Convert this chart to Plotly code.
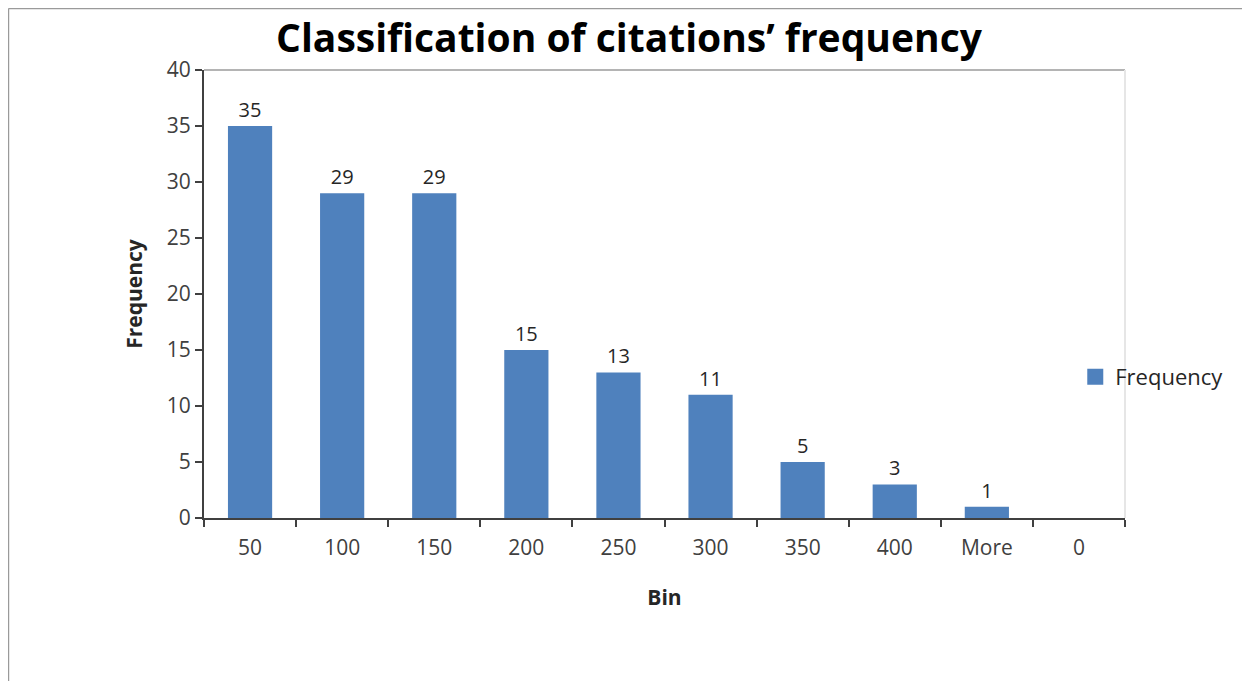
"""Histogram of citation frequency, drawn as an Excel-style bar chart."""

import plotly.graph_objects as go

bins = ["50", "100", "150", "200", "250", "300", "350", "400", "More", "0"]
frequency = [35, 29, 29, 15, 13, 11, 5, 3, 1, 0]
labels = [str(v) if v > 0 else "" for v in frequency]
y_ticks = [0, 5, 10, 15, 20, 25, 30, 35, 40]

FONT = "Open Sans"
BLUE = "#4F81BD"
AXIS = "#404040"

fig = go.Figure()

fig.add_trace(go.Bar(
    name="Frequency",
    x=bins,
    y=frequency,
    text=labels,
    textposition="outside",
    textfont=dict(size=20, color="#262626", family=FONT),
    cliponaxis=False,
    width=0.48,
    marker=dict(color=BLUE, line=dict(width=0)),
    showlegend=False,
))

# legend-only entry so the swatch can be a bit bigger than the bar default
fig.add_trace(go.Scatter(
    name="Frequency",
    x=[None],
    y=[None],
    mode="markers",
    marker=dict(symbol="square", size=16, color=BLUE),
    showlegend=True,
))

fig.update_layout(
    width=1242,
    height=673,
    plot_bgcolor="white",
    paper_bgcolor="white",
    font=dict(family=FONT, color=AXIS, size=21),
    title=dict(
        text="<b>Classification of citations’ frequency</b>",
        x=0.5,
        xanchor="center",
        y=0.955,
        yanchor="middle",
        font=dict(size=39, color="#000000", family=FONT),
    ),
    margin=dict(l=196, r=125, t=62, b=163),
    showlegend=True,
    legend=dict(
        x=0.946,
        y=0.315,
        xanchor="left",
        yanchor="middle",
        font=dict(size=22, color="#262626"),
        bgcolor="rgba(0,0,0,0)",
    ),
    xaxis=dict(
        type="category",
        tickson="boundaries",
        ticks="outside",
        ticklen=7,
        tickwidth=2,
        tickcolor=AXIS,
        showline=True,
        linecolor=AXIS,
        linewidth=2,
        showgrid=False,
        ticklabelstandoff=10,
        tickfont=dict(size=21, color=AXIS),
        title=dict(text="<b>Bin</b>", font=dict(size=21, color="#262626"), standoff=30),
    ),
    yaxis=dict(
        range=[0, 40],
        tickvals=y_ticks,
        ticks="outside",
        ticklen=7,
        tickwidth=2,
        tickcolor=AXIS,
        showline=True,
        linecolor=AXIS,
        linewidth=2,
        showgrid=False,
        zeroline=False,
        tickfont=dict(size=21, color=AXIS),
        title=dict(text="<b>Frequency</b>", font=dict(size=21, color="#262626"), standoff=18),
    ),
    shapes=[
        # plot area top and right borders
        dict(type="line", xref="paper", yref="paper", x0=0, x1=1, y0=1, y1=1,
             line=dict(color="#b4b4b4", width=2)),
        dict(type="line", xref="paper", yref="paper", x0=1, x1=1, y0=0, y1=1,
             line=dict(color="#e6e6e6", width=2)),
        # outer chart frame (left and top edges visible)
        dict(type="line", xref="paper", yref="paper", x0=-0.2123, x1=1.2, y0=1.1373, y1=1.1373,
             line=dict(color="#9a9a9a", width=1.5)),
        dict(type="line", xref="paper", yref="paper", x0=-0.2123, x1=-0.2123, y0=-0.5, y1=1.1373,
             line=dict(color="#9a9a9a", width=1.5)),
    ],
)

fig.write_html("out.html")
